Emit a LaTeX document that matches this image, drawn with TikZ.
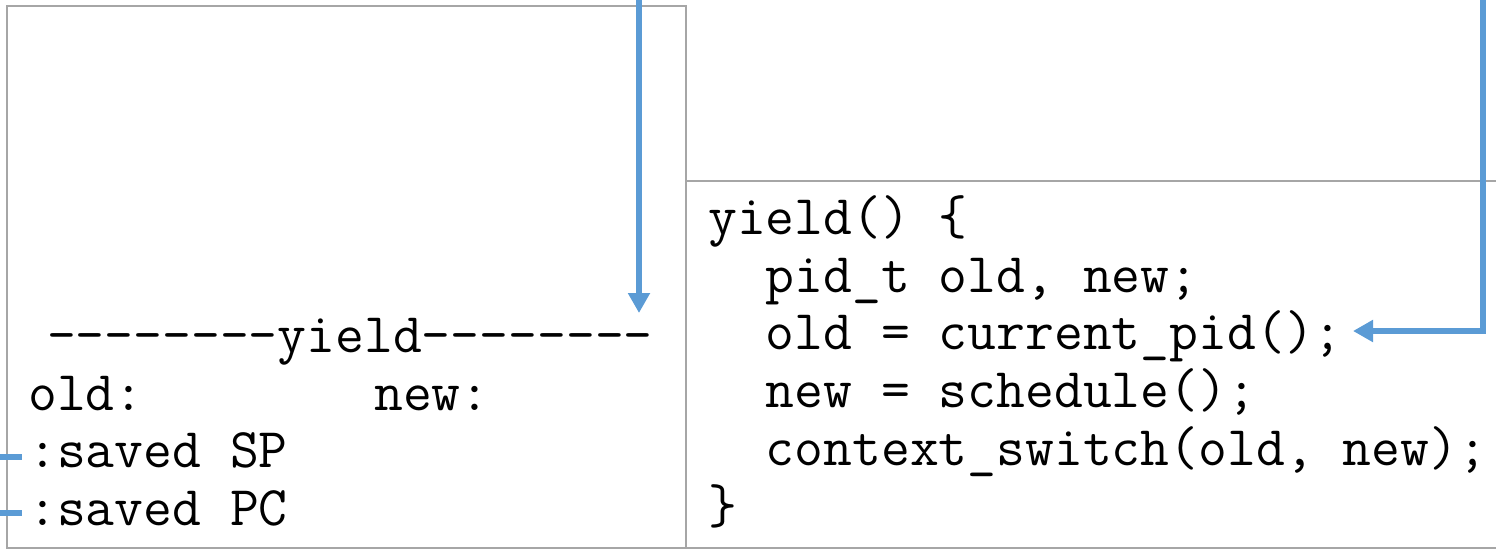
\documentclass[tikz,border=0pt]{standalone}
\usepackage{fontspec}
\usetikzlibrary{arrows.meta}

\begin{document}
\begin{tikzpicture}[
            x=1pt, y=-1pt,
            >={Triangle[length=20pt, width=21pt]},
            frame/.style={draw=black!35, line width=2.2pt},
            link/.style={draw={rgb,255:red,91;green,155;blue,213}, line width=5.5pt},
            code/.style={anchor=base west, inner sep=0pt,
                font=\fontsize{56}{58}\selectfont\ttfamily}
        ]
            \useasboundingbox (0,0) rectangle (1496,552);
            % stack frame and code boxes
            \draw[frame] (7,6) rectangle (686,548);
            \draw[frame] (1496,181) -- (686,181) -- (686,548) -- (1496,548);

            % stack frame contents
            \node[code] (frametitle) at (18,352) {\ -{}-{}-{}-{}-{}-{}-{}-yield-{}-{}-{}-{}-{}-{}-{}-};
            \node[code] (oldnew) at (28,410) {old:\ \ \ \ \ \ \ \ new:};
            \node[code] (savedsp) at (28,467) {:saved SP};
            \node[code] (savedpc) at (28,525) {:saved PC};

            % code of yield
            \node[code] (line1) at (708,234) {yield() \{};
            \node[code] (line2) at (708,292) {\ \ pid\_t old, new;};
            \node[code] (line3) at (708,349) {\ \ old = current\_pid();};
            \node[code] (line4) at (708,407) {\ \ new = schedule();};
            \node[code] (line5) at (708,465) {\ \ context\_switch(old, new);};
            \node[code] (line6) at (708,523) {\}};

            % connectors
            \coordinate (intop) at (639,0);
            \coordinate (inend) at (639,313);
            \coordinate (pctop) at (1483,0);
            \coordinate (pcend) at (1353,331);
            \coordinate (spin) at (0,457);
            \coordinate (spend) at (22,457);
            \coordinate (pcin) at (0,513);
            \coordinate (pcout) at (22,513);
            \draw[link, ->] (intop) -- (inend);
            \draw[link, ->] (pctop) |- (pcend);
            \draw[link] (spin) -- (spend);
            \draw[link] (pcin) -- (pcout);
        \end{tikzpicture}
\end{document}
